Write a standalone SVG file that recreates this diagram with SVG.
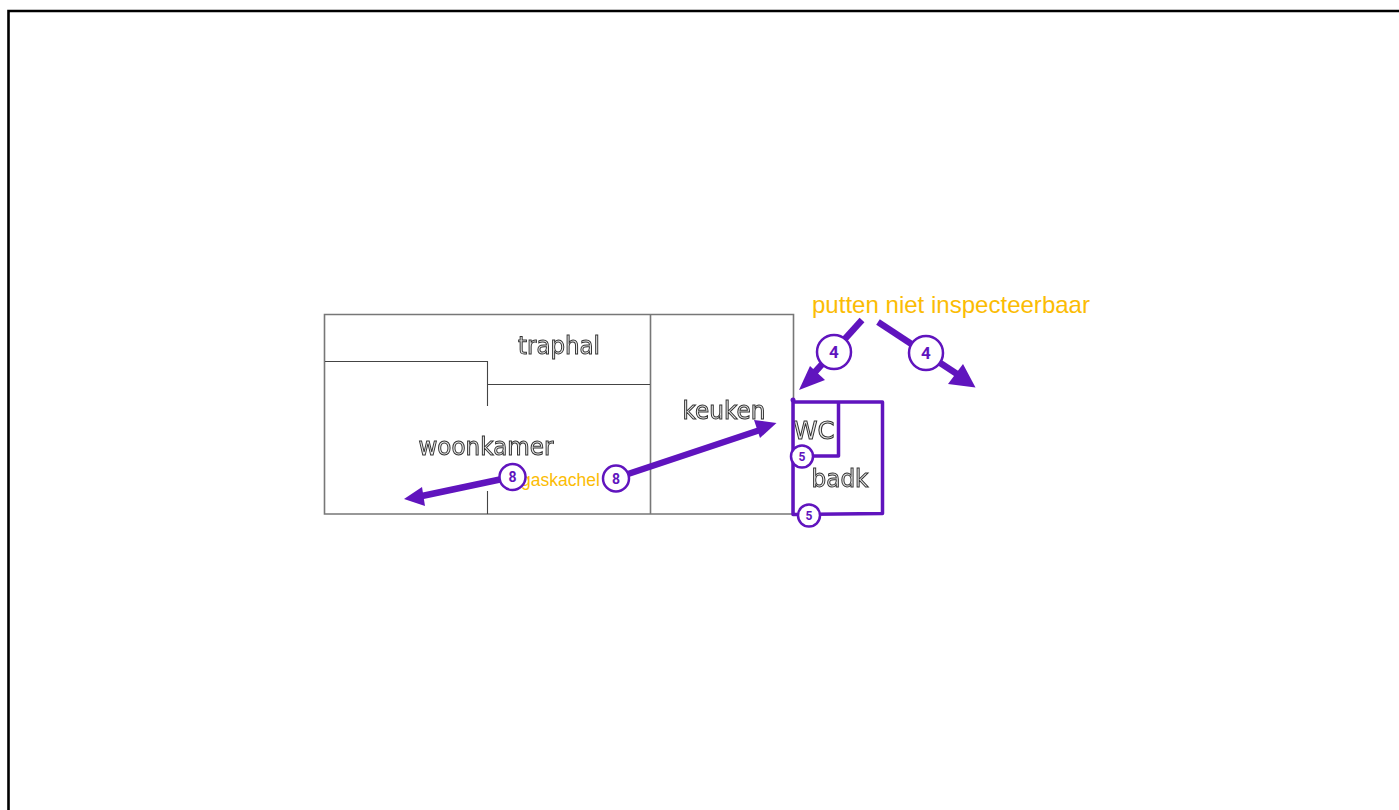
<svg xmlns="http://www.w3.org/2000/svg" width="1399" height="810" viewBox="0 0 1399 810">
<defs>
<filter id="gray" x="-10%" y="-20%" width="120%" height="140%" color-interpolation-filters="sRGB">
<feColorMatrix type="saturate" values="0"/>
<feGaussianBlur stdDeviation="0.3"/>
</filter>
</defs>
<style>
.wall{fill:none;stroke:#777;stroke-width:1.6}
.inner{fill:none;stroke:#444;stroke-width:1.1}
.room{font-family:"DejaVu Sans",sans-serif;fill:#e8e8e8;stroke:#333;stroke-width:1;text-anchor:middle;filter:url(#gray)}
.note{font-family:"Liberation Sans",Arial,sans-serif;fill:#fbbc04}
.pl{fill:none;stroke:#6014be;stroke-width:3.500;stroke-linejoin:round;stroke-linecap:round}
.ar{fill:none;stroke:#6014be;stroke-width:6.500}
.head{fill:#6014be;stroke:none}
.badge{fill:#fff;stroke:#6014be;stroke-width:2.500}
.bt{font-family:"Roboto","DejaVu Sans",sans-serif;font-weight:700;fill:#6014be;text-anchor:middle}
</style>
<rect width="1399" height="810" fill="#fff"/>
<path id="frame" d="M8.500 810V11H1399" fill="none" stroke="#000" stroke-width="2.600"/>
<g id="plan">
<path class="wall" d="M324.500 314.500H793.500V514H324.500ZM650.500 314.500V514"/>
<path class="inner" d="M325 361.500H487.500V406M487.500 384.500H650M487.500 491V514"/>
</g>
<g id="traphal"><text class="room" x="559" y="354" font-size="24" textLength="82" lengthAdjust="spacingAndGlyphs">traphal</text></g>
<g id="woonkamer"><text class="room" x="486" y="455" font-size="24" textLength="135" lengthAdjust="spacingAndGlyphs">woonkamer</text></g>
<g id="keuken"><text class="room" x="724" y="419" font-size="24" textLength="83" lengthAdjust="spacingAndGlyphs">keuken</text></g>
<g id="wc"><text class="room" x="814" y="439" font-size="24" textLength="41" lengthAdjust="spacingAndGlyphs">WC</text></g>
<g id="badk"><text class="room" x="840" y="487" font-size="24" textLength="57" lengthAdjust="spacingAndGlyphs">badk</text></g>
<g id="gaskachel"><text class="note" x="521" y="486" font-size="17.500">gaskachel</text></g>
<g id="putten"><text class="note" x="812" y="313" font-size="24" textLength="278" lengthAdjust="spacingAndGlyphs">putten niet inspecteerbaar</text></g>
<g id="rooms-outline">
<path class="pl" d="M793 401V514.500L882.500 513.500V402H793ZM838.500 402V456H800"/>
<circle cx="793" cy="400" r="2.500" fill="#6014be"/>
</g>
<g id="connectors">
<path class="ar" d="M862 320L815 372"/>
<path class="head" d="M799 390L810 366L825 380Z"/>
<path class="ar" d="M878 322L957 374"/>
<path class="head" d="M975.500 387.500L948 384L963 364Z"/>
<path class="ar" d="M616 478L760 430"/>
<path class="head" d="M776.500 423L760 438L754 420Z"/>
<path class="ar" d="M512 477L422 496"/>
<path class="head" d="M404 499L422 487L425 506Z"/>
</g>
<g id="badge-4a"><circle class="badge" cx="834" cy="352" r="17"/><text class="bt" x="834" y="358" font-size="17">4</text></g>
<g id="badge-4b"><circle class="badge" cx="926" cy="353" r="17"/><text class="bt" x="926" y="359" font-size="17">4</text></g>
<g id="badge-8a"><circle class="badge" cx="512.500" cy="477" r="13"/><text class="bt" x="512.500" y="482" font-size="14">8</text></g>
<g id="badge-8b"><circle class="badge" cx="616" cy="478.500" r="13"/><text class="bt" x="616" y="483.500" font-size="14">8</text></g>
<g id="badge-5a"><circle class="badge" cx="802" cy="456.500" r="11"/><text class="bt" x="802" y="460.500" font-size="12">5</text></g>
<g id="badge-5b"><circle class="badge" cx="809" cy="515.500" r="11"/><text class="bt" x="809" y="519.500" font-size="12">5</text></g>
</svg>
